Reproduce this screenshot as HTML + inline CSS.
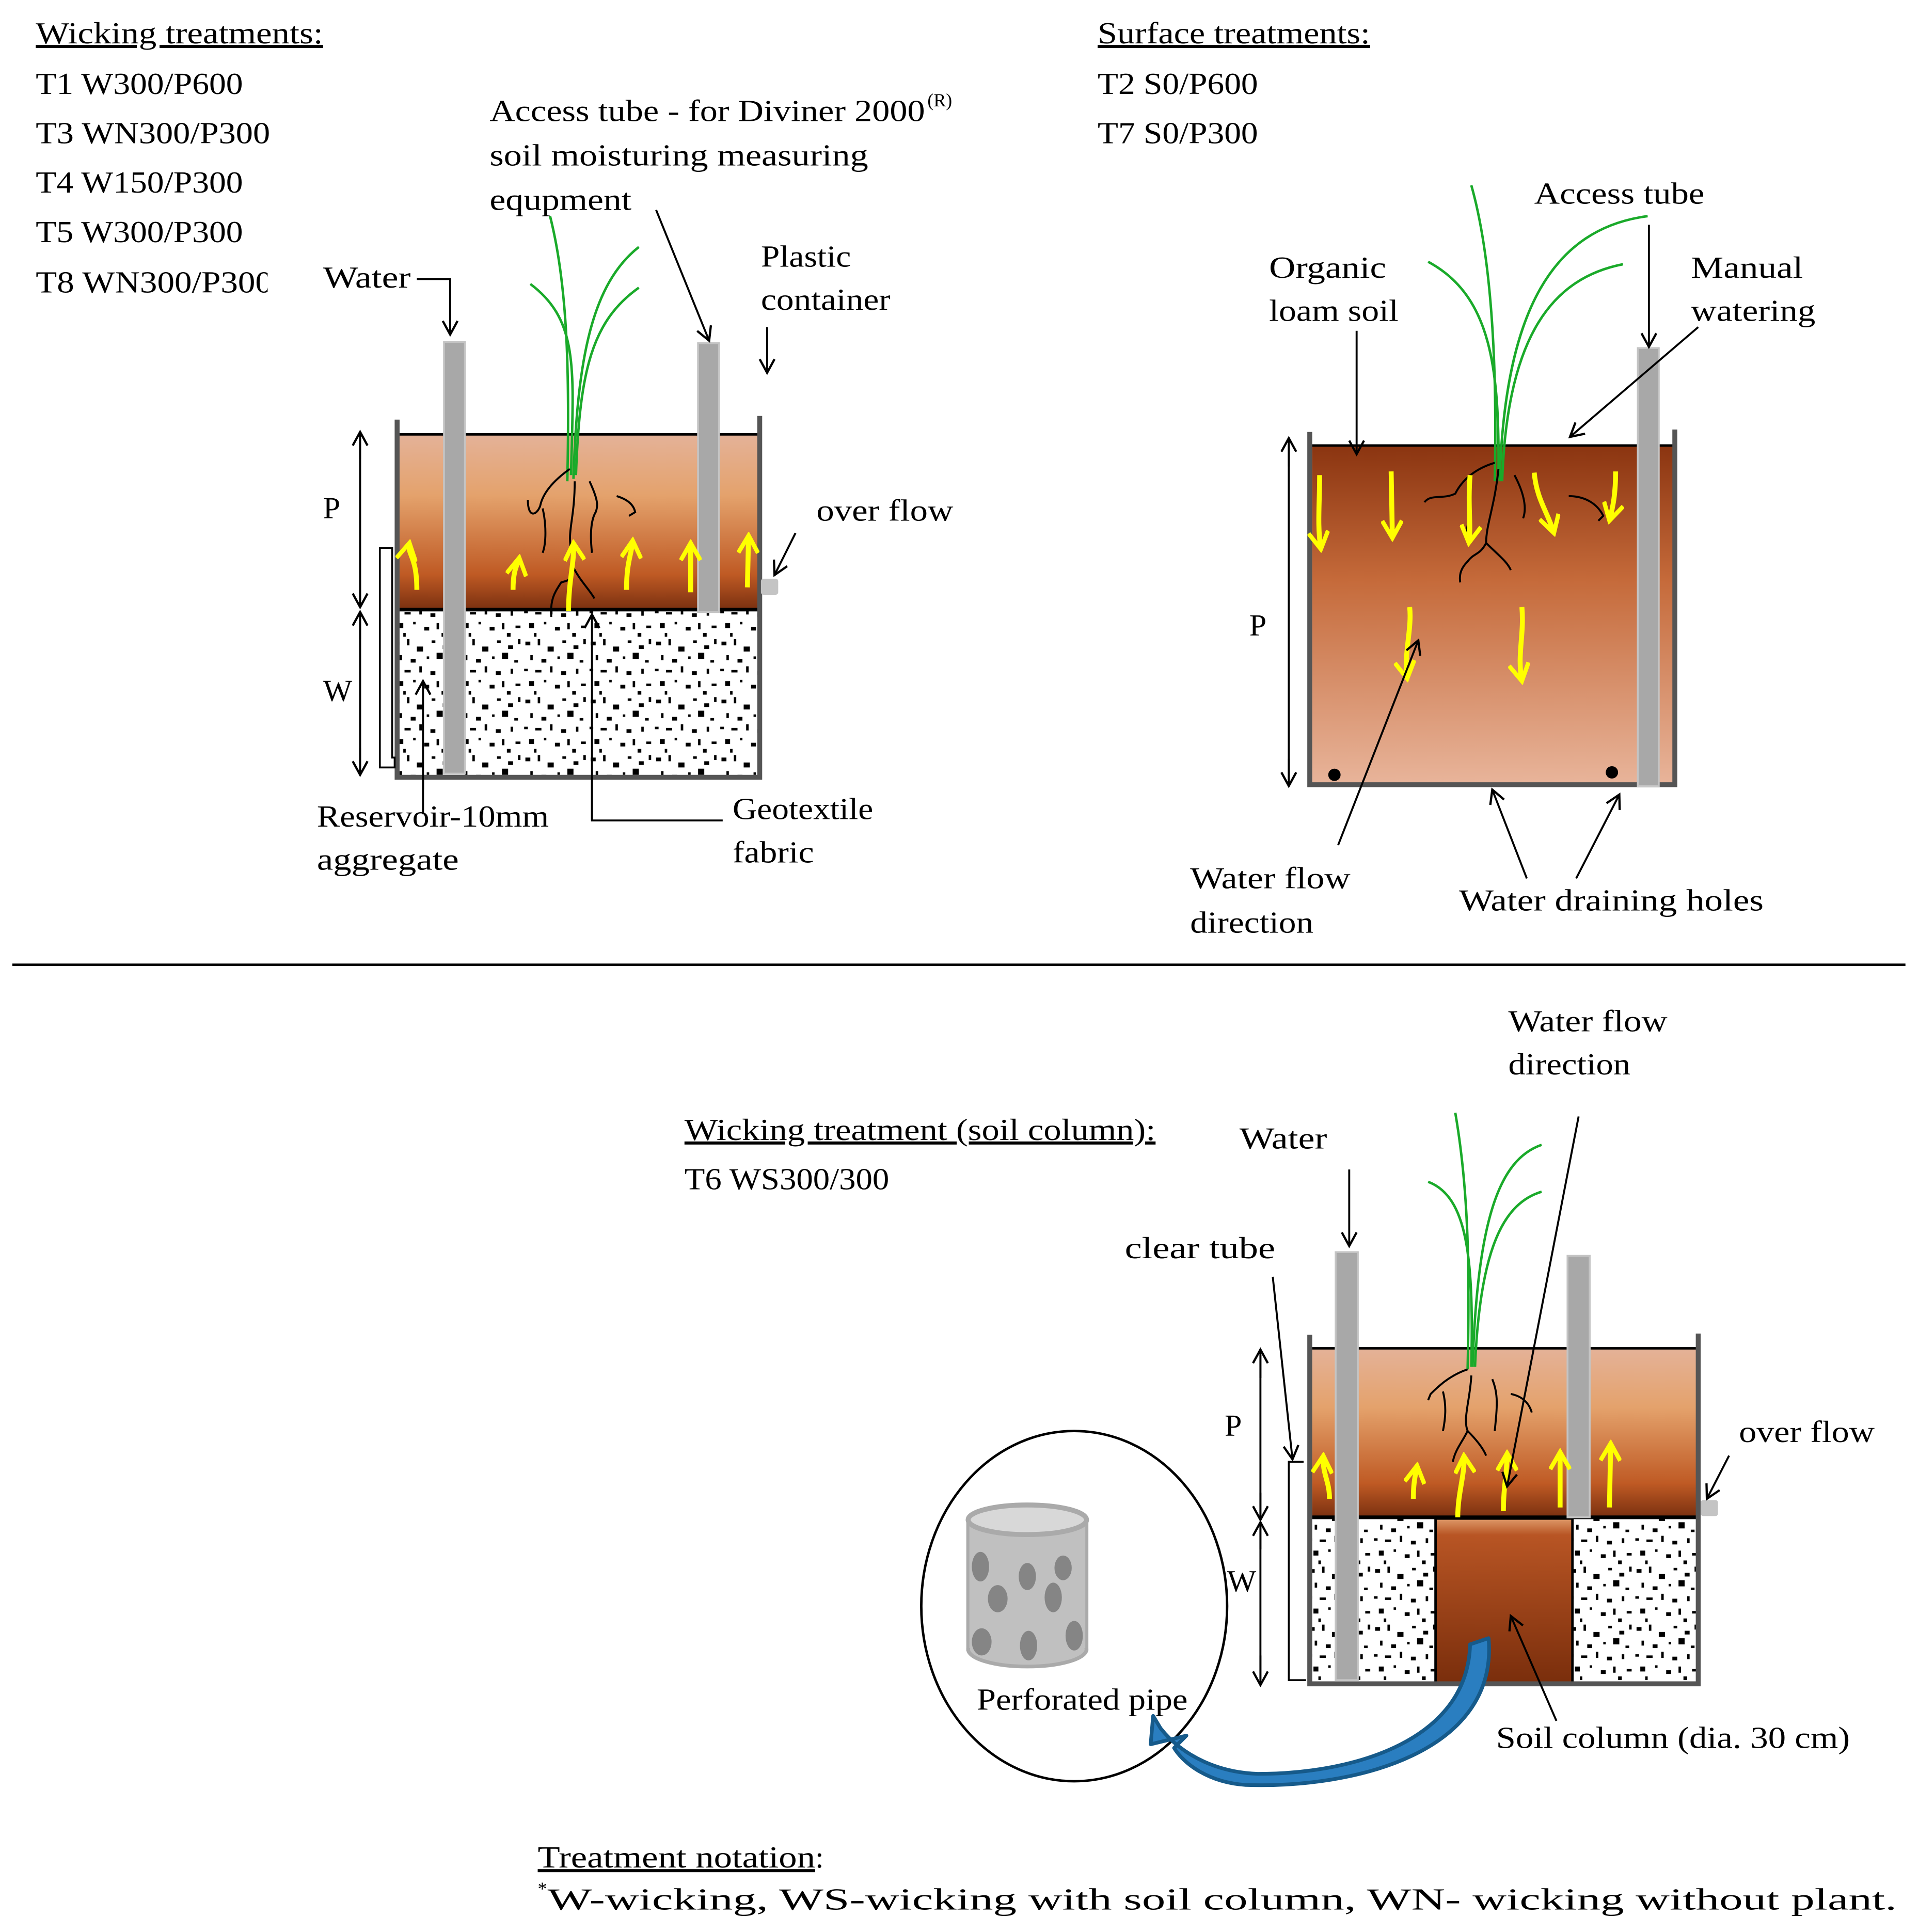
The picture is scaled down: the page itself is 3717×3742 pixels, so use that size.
<!DOCTYPE html>
<html><head><meta charset="utf-8"><style>html,body{margin:0;padding:0;background:#fff}svg{display:block}text{font-family:"Liberation Serif",serif;font-size:25px;fill:#000}</style></head>
<body>
<svg width="3717" height="3742" viewBox="0 0 1556 1566" xmlns="http://www.w3.org/2000/svg">
<defs>
<linearGradient id="gA" x1="0" y1="0" x2="0" y2="1"><stop offset="0" stop-color="#e4b298"/><stop offset="0.35" stop-color="#e4a26c"/><stop offset="0.8" stop-color="#bf5a24"/><stop offset="1" stop-color="#7a3010"/></linearGradient>
<linearGradient id="gB" x1="0" y1="0" x2="0" y2="1"><stop offset="0" stop-color="#8a3410"/><stop offset="0.4" stop-color="#c56a3a"/><stop offset="1" stop-color="#e8b49a"/></linearGradient>
<linearGradient id="gC" x1="0" y1="0" x2="0" y2="1"><stop offset="0" stop-color="#de9a6a"/><stop offset="0.1" stop-color="#b85524"/><stop offset="1" stop-color="#7a2e0c"/></linearGradient>
<pattern id="agg" width="53" height="47" patternUnits="userSpaceOnUse">
<rect width="53" height="47" fill="#fff"/>
<g fill="#000">
<rect x="2" y="3" width="4" height="3"/><rect x="12" y="1" width="2" height="5"/><rect x="20" y="7" width="5" height="4"/><rect x="32" y="2" width="3" height="2"/><rect x="41" y="6" width="4" height="3"/><rect x="49" y="1" width="2" height="4"/>
<rect x="6" y="14" width="2" height="4"/><rect x="15" y="17" width="4" height="3"/><rect x="28" y="15" width="2" height="2"/><rect x="36" y="12" width="5" height="5"/><rect x="46" y="18" width="3" height="2"/>
<rect x="1" y="25" width="3" height="2"/><rect x="10" y="26" width="5" height="2"/><rect x="22" y="23" width="2" height="5"/><rect x="31" y="27" width="4" height="3"/><rect x="43" y="25" width="2" height="4"/>
<rect x="5" y="35" width="4" height="4"/><rect x="17" y="34" width="2" height="2"/><rect x="26" y="38" width="4" height="3"/><rect x="36" y="35" width="2" height="5"/><rect x="47" y="37" width="4" height="2"/>
<rect x="9" y="43" width="2" height="3"/><rect x="40" y="43" width="3" height="3"/>
</g></pattern>
<marker id="ah" markerWidth="14" markerHeight="14" refX="12" refY="7" orient="auto" markerUnits="userSpaceOnUse"><path d="M1,1 L12,7 L1,13" fill="none" stroke="#000" stroke-width="1.8"/></marker>
<marker id="ay" markerWidth="18" markerHeight="18" refX="15" refY="9" orient="auto" markerUnits="userSpaceOnUse"><path d="M1,1 L15,9 L1,17" fill="none" stroke="#ffff00" stroke-width="3.5"/></marker>
</defs>

<text x="29" y="35" text-decoration="underline" textLength="233" lengthAdjust="spacingAndGlyphs">Wicking treatments:</text>
<text x="29" y="76" textLength="168" lengthAdjust="spacingAndGlyphs">T1 W300/P600</text>
<text x="29" y="116" textLength="190" lengthAdjust="spacingAndGlyphs">T3 WN300/P300</text>
<text x="29" y="156" textLength="168" lengthAdjust="spacingAndGlyphs">T4 W150/P300</text>
<text x="29" y="196" textLength="168" lengthAdjust="spacingAndGlyphs">T5 W300/P300</text>
<text x="29" y="237" textLength="192" lengthAdjust="spacingAndGlyphs">T8 WN300/P300</text>
<rect x="217" y="210" width="30" height="35" fill="#fff"/>
<text x="397" y="98" textLength="353" lengthAdjust="spacingAndGlyphs">Access  tube - for Diviner  2000</text><text x="752" y="86" style="font-size:15px">(R)</text>
<text x="397" y="134" textLength="307" lengthAdjust="spacingAndGlyphs">soil  moisturing  measuring</text>
<text x="397" y="170" textLength="115" lengthAdjust="spacingAndGlyphs">equpment</text>
<text x="617" y="216" textLength="73" lengthAdjust="spacingAndGlyphs">Plastic</text>
<text x="617" y="251" textLength="105" lengthAdjust="spacingAndGlyphs">container</text>
<text x="262" y="233" textLength="71" lengthAdjust="spacingAndGlyphs">Water</text>
<text x="662" y="422" textLength="111" lengthAdjust="spacingAndGlyphs">over  flow</text>
<text x="262" y="420">P</text>
<text x="262" y="568">W</text>
<text x="257" y="670" textLength="188" lengthAdjust="spacingAndGlyphs">Reservoir-10mm</text>
<text x="257" y="705" textLength="115" lengthAdjust="spacingAndGlyphs">aggregate</text>
<text x="594" y="664" textLength="114" lengthAdjust="spacingAndGlyphs">Geotextile</text>
<text x="594" y="699" textLength="66" lengthAdjust="spacingAndGlyphs">fabric</text>

<rect x="324" y="352" width="291" height="142" fill="url(#gA)"/>
<line x1="324" y1="352" x2="615" y2="352" stroke="#000" stroke-width="2"/>
<rect x="324" y="494" width="291" height="136" fill="url(#agg)"/>
<line x1="324" y1="494" x2="615" y2="494" stroke="#000" stroke-width="3"/>
<path d="M322,340 V630 H618 M616,337 V630" fill="none" stroke="#555" stroke-width="4"/>
<rect x="360" y="277" width="17" height="350" fill="#a8a8a8" stroke="#c4c4c4" stroke-width="1.5"/>
<rect x="566" y="278" width="17" height="218" fill="#a8a8a8" stroke="#c4c4c4" stroke-width="1.5"/>
<path d="M318,444 H308 V622 H320 V614 H318 Z" fill="#fff" stroke="#000" stroke-width="1.5"/>
<rect x="617" y="469" width="14" height="13" rx="2" fill="#c4c4c4"/>
<g fill="none" stroke="#1aaa2a" stroke-width="2">
<path d="M460,390 C462,300 460,230 446,175"/><path d="M463,385 C465,300 470,260 430,230"/><path d="M465,388 C468,290 480,230 518,200"/><path d="M467,385 C470,300 480,260 518,233"/>
</g>
<g fill="none" stroke="#000" stroke-width="1.6">
<path d="M462,380 C448,390 440,400 438,410 C435,418 428,420 428,405"/><path d="M440,412 C443,425 443,440 440,448"/><path d="M466,390 C466,420 460,430 463,445 C468,470 462,470 455,472 C450,480 446,485 447,500"/><path d="M465,460 C470,470 478,478 482,485"/><path d="M478,390 C485,405 485,410 483,415 C480,420 478,430 480,448"/><path d="M500,402 C510,405 514,410 515,415 L510,418"/>
</g>
<g fill="none" stroke="#ffff00" stroke-width="4" marker-end="url(#ay)">
<path d="M338,478 C338,450 330,450 332,440"/><path d="M416,478 C416,460 420,458 421,452"/><path d="M461,495 C461,470 466,455 465,440"/><path d="M508,478 C508,455 512,450 513,438"/><path d="M560,480 L560,440"/><path d="M606,476 L607,434"/>
</g>
<g fill="none" stroke="#000" stroke-width="1.6" marker-end="url(#ah)">
<path d="M338,226 H365 V271"/><path d="M532,170 L575,276"/><path d="M622,265 L622,302"/><path d="M645,432 L628,466"/>
<path d="M292,372 V350"/><path d="M292,470 V492"/><path d="M292,518 V496"/><path d="M292,606 V628"/>
<path d="M343,640 V552"/><path d="M480,665 H480 V498"/>
</g>
<line x1="292" y1="352" x2="292" y2="490" stroke="#000" stroke-width="1.6"/>
<line x1="292" y1="498" x2="292" y2="626" stroke="#000" stroke-width="1.6"/>
<path d="M343,630 V660 M480,630 V665 H586" fill="none" stroke="#000" stroke-width="1.6"/>

<text x="890" y="35" text-decoration="underline" textLength="221" lengthAdjust="spacingAndGlyphs">Surface treatments:</text>
<text x="890" y="76" textLength="130" lengthAdjust="spacingAndGlyphs">T2 S0/P600</text>
<text x="890" y="116" textLength="130" lengthAdjust="spacingAndGlyphs">T7 S0/P300</text>
<text x="1244" y="165" textLength="138" lengthAdjust="spacingAndGlyphs">Access  tube</text>
<text x="1029" y="225" textLength="95" lengthAdjust="spacingAndGlyphs">Organic</text>
<text x="1029" y="260" textLength="105" lengthAdjust="spacingAndGlyphs">loam  soil</text>
<text x="1371" y="225" textLength="91" lengthAdjust="spacingAndGlyphs">Manual</text>
<text x="1371" y="260" textLength="101" lengthAdjust="spacingAndGlyphs">watering</text>
<text x="1013" y="515">P</text>
<text x="965" y="720" textLength="130" lengthAdjust="spacingAndGlyphs">Water  flow</text>
<text x="965" y="756" textLength="100" lengthAdjust="spacingAndGlyphs">direction</text>
<text x="1183" y="738" textLength="247" lengthAdjust="spacingAndGlyphs">Water  draining  holes</text>
<rect x="1064" y="360" width="293" height="275" fill="url(#gB)"/>
<line x1="1064" y1="361" x2="1357" y2="361" stroke="#000" stroke-width="2"/>
<path d="M1062,350 V636 H1360 M1358,348 V636" fill="none" stroke="#555" stroke-width="4"/>
<rect x="1328" y="282" width="17" height="355" fill="#a8a8a8" stroke="#c4c4c4" stroke-width="1.5"/>
<circle cx="1082" cy="628" r="5" fill="#000"/><circle cx="1307" cy="626" r="5" fill="#000"/>
<g fill="none" stroke="#1aaa2a" stroke-width="2">
<path d="M1212,390 C1214,300 1210,210 1193,150"/><path d="M1215,388 C1216,300 1210,240 1158,212"/><path d="M1216,390 C1220,250 1260,185 1336,175"/><path d="M1218,390 C1222,270 1260,225 1316,214"/>
</g>
<g fill="none" stroke="#000" stroke-width="1.6">
<path d="M1212,375 C1195,380 1185,390 1180,400 C1170,405 1160,400 1155,407"/><path d="M1190,395 C1195,410 1190,425 1188,435"/><path d="M1215,380 C1212,410 1205,425 1205,440 C1200,450 1195,448 1190,455 C1185,460 1183,465 1184,472"/><path d="M1205,440 C1215,450 1222,455 1225,462"/><path d="M1228,385 C1236,400 1238,412 1235,420"/><path d="M1272,402 C1285,402 1295,408 1300,418 L1296,422"/>
</g>
<g fill="none" stroke="#ffff00" stroke-width="4" marker-end="url(#ay)">
<path d="M1070,385 C1070,410 1068,425 1071,445"/><path d="M1128,382 L1129,436"/><path d="M1192,385 C1190,410 1193,425 1191,440"/><path d="M1244,383 C1246,405 1255,415 1260,432"/><path d="M1310,382 C1310,400 1308,410 1305,422"/><path d="M1143,492 C1145,510 1138,530 1141,550"/><path d="M1234,492 C1236,515 1230,530 1234,552"/>
</g>
<g fill="none" stroke="#000" stroke-width="1.6" marker-end="url(#ah)">
<path d="M1337,182 V281"/><path d="M1100,268 V368"/><path d="M1377,265 L1273,354"/>
<path d="M1045,378 V355"/><path d="M1045,615 V637"/>
<path d="M1085,685 L1150,519"/><path d="M1238,712 L1210,640"/><path d="M1278,712 L1313,644"/>
</g>
<line x1="1045" y1="360" x2="1045" y2="632" stroke="#000" stroke-width="1.6"/>

<line x1="10" y1="782" x2="1545" y2="782" stroke="#000" stroke-width="2"/>

<text x="555" y="924" text-decoration="underline" textLength="382" lengthAdjust="spacingAndGlyphs">Wicking treatment (soil column): </text>
<text x="555" y="964" textLength="166" lengthAdjust="spacingAndGlyphs">T6 WS300/300</text>
<text x="1223" y="836" textLength="129" lengthAdjust="spacingAndGlyphs">Water  flow</text>
<text x="1223" y="871" textLength="99" lengthAdjust="spacingAndGlyphs">direction</text>
<text x="1005" y="931" textLength="71" lengthAdjust="spacingAndGlyphs">Water</text>
<text x="912" y="1020" textLength="122" lengthAdjust="spacingAndGlyphs">clear  tube</text>
<text x="993" y="1164">P</text>
<text x="995" y="1290">W</text>
<text x="1410" y="1169" textLength="110" lengthAdjust="spacingAndGlyphs">over  flow</text>
<text x="1213" y="1417" textLength="287" lengthAdjust="spacingAndGlyphs">Soil column  (dia. 30 cm)</text>

<rect x="1064" y="1093" width="312" height="137" fill="url(#gA)"/>
<line x1="1064" y1="1093" x2="1376" y2="1093" stroke="#000" stroke-width="2"/>
<rect x="1064" y="1230" width="312" height="134" fill="url(#agg)"/>
<rect x="1164" y="1231" width="111" height="133" fill="url(#gC)" stroke="#000" stroke-width="2"/>
<line x1="1064" y1="1230" x2="1376" y2="1230" stroke="#000" stroke-width="3"/>
<path d="M1062,1082 V1365 H1379 M1377,1081 V1365" fill="none" stroke="#555" stroke-width="4"/>
<rect x="1083" y="1015" width="18" height="347" fill="#a8a8a8" stroke="#c4c4c4" stroke-width="1.5"/>
<rect x="1271" y="1018" width="18" height="212" fill="#a8a8a8" stroke="#c4c4c4" stroke-width="1.5"/>
<path d="M1057,1185 H1045 V1362 H1059" fill="#fff" stroke="#000" stroke-width="1.5"/>
<rect x="1379" y="1216" width="14" height="13" rx="2" fill="#c4c4c4"/>
<g fill="none" stroke="#1aaa2a" stroke-width="2">
<path d="M1190,1110 C1192,1020 1190,960 1180,902"/><path d="M1193,1108 C1195,1020 1190,970 1158,958"/><path d="M1194,1108 C1198,990 1215,940 1250,928"/><path d="M1196,1108 C1200,1010 1220,975 1250,966"/>
</g>
<g fill="none" stroke="#000" stroke-width="1.6">
<path d="M1190,1110 C1175,1115 1165,1125 1160,1130 L1158,1135"/><path d="M1170,1128 C1173,1140 1172,1150 1170,1160"/><path d="M1193,1115 C1192,1135 1186,1150 1190,1160 C1185,1170 1180,1175 1178,1185"/><path d="M1190,1160 C1198,1168 1203,1175 1205,1180"/><path d="M1210,1118 C1215,1130 1214,1140 1212,1160"/><path d="M1225,1130 C1235,1132 1240,1138 1242,1145"/>
</g>
<g fill="none" stroke="#ffff00" stroke-width="4" marker-end="url(#ay)">
<path d="M1078,1215 C1078,1200 1072,1195 1073,1180"/><path d="M1146,1215 C1146,1200 1148,1195 1149,1188"/><path d="M1182,1230 C1182,1210 1188,1195 1187,1180"/><path d="M1219,1225 C1219,1205 1222,1195 1222,1178"/><path d="M1265,1222 L1265,1177"/><path d="M1305,1222 L1306,1170"/>
</g>
<g fill="none" stroke="#000" stroke-width="1.6" marker-end="url(#ah)">
<path d="M1094,948 L1094,1010"/><path d="M1032,1035 L1048,1183"/><path d="M1280,905 L1222,1205"/><path d="M1402,1180 L1384,1215"/>
<path d="M1022,1117 V1094"/><path d="M1022,1210 V1232"/><path d="M1022,1256 V1234"/><path d="M1022,1342 V1366"/><path d="M1262,1395 L1225,1310"/>
</g>
<line x1="1022" y1="1098" x2="1022" y2="1228" stroke="#000" stroke-width="1.6"/>
<line x1="1022" y1="1238" x2="1022" y2="1362" stroke="#000" stroke-width="1.6"/>

<ellipse cx="871" cy="1302" rx="124" ry="142" fill="#fff" stroke="#000" stroke-width="2"/>
<rect x="785" y="1232" width="96" height="105" fill="#c0c0c0" stroke="#aaa" stroke-width="3"/>
<ellipse cx="833" cy="1337" rx="48" ry="14" fill="#c0c0c0" stroke="#aaa" stroke-width="3"/>
<rect x="786" y="1232" width="94" height="104" fill="#c0c0c0"/>
<ellipse cx="833" cy="1232" rx="48" ry="12" fill="#d8d8d8" stroke="#aaa" stroke-width="4"/>
<g fill="#858585">
<ellipse cx="795" cy="1270" rx="7" ry="12"/><ellipse cx="833" cy="1278" rx="7" ry="11"/><ellipse cx="862" cy="1271" rx="7" ry="10"/>
<ellipse cx="809" cy="1296" rx="8" ry="11"/><ellipse cx="854" cy="1295" rx="7" ry="12"/>
<ellipse cx="796" cy="1331" rx="8" ry="11"/><ellipse cx="834" cy="1334" rx="7" ry="12"/><ellipse cx="871" cy="1326" rx="7" ry="12"/>
</g>
<text x="792" y="1386" textLength="171" lengthAdjust="spacingAndGlyphs">Perforated pipe</text>
<path d="M1207,1328 C1215,1420 1100,1450 1010,1447 C980,1445 960,1430 952,1417 L962,1407 L933,1414 L935,1391 L941,1401 C960,1425 990,1437 1020,1438 C1100,1438 1190,1410 1192,1333 Z" fill="#2a7ec0" stroke="#165a8a" stroke-width="3" stroke-linejoin="round"/>
<text x="436" y="1514" text-decoration="underline" textLength="225" lengthAdjust="spacingAndGlyphs">Treatment  notation</text><text x="661" y="1514">:</text>
<text x="436" y="1536" style="font-size:15px">*</text>
<text x="444" y="1548" textLength="1094" lengthAdjust="spacingAndGlyphs">W-wicking,  WS-wicking  with  soil  column,  WN- wicking  without  plant.</text>
</svg>
</body></html>
